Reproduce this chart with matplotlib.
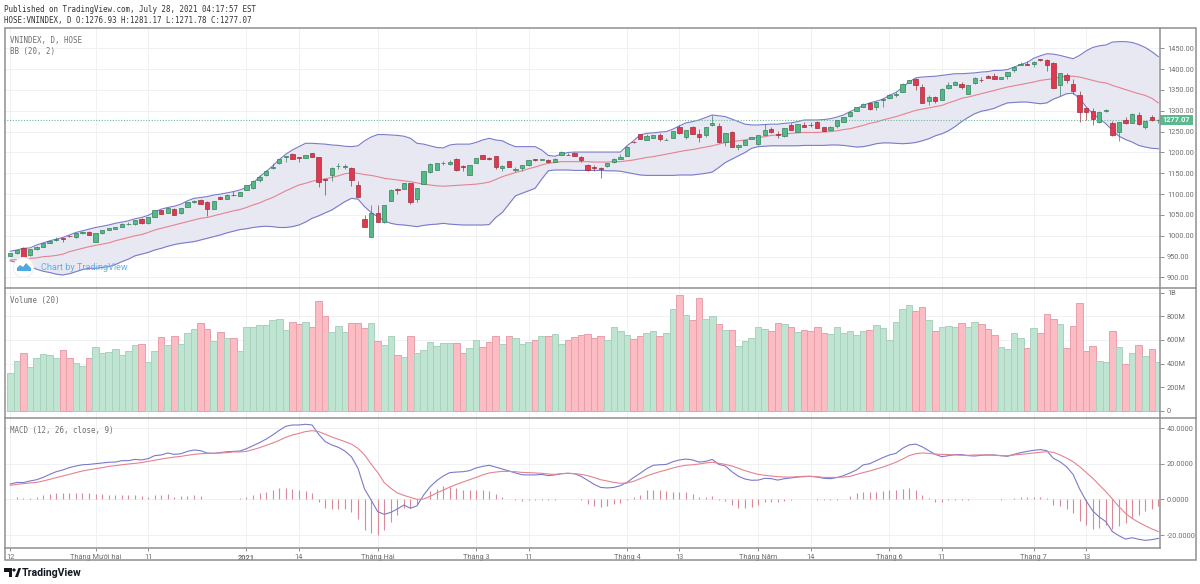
import matplotlib
matplotlib.use("Agg")
import matplotlib.pyplot as plt
from matplotlib.patches import Circle, Polygon, Rectangle

W, H = 1200, 584

opens = [
    952, 958, 970, 953, 968, 974, 983, 989, 994, 1000,
    996, 1006, 1010, 986, 1006, 1014, 1017, 1022, 1029, 1028,
    1041, 1030, 1046, 1061, 1055, 1065, 1054, 1070, 1080, 1086,
    1082, 1065, 1094, 1089, 1099, 1096, 1111, 1114, 1134, 1145,
    1162, 1174, 1189, 1196, 1188, 1187, 1198, 1189, 1136, 1145,
    1167, 1166, 1163, 1121, 1041, 998, 1055, 1034, 1084, 1113,
    1113, 1126, 1088, 1125, 1154, 1158, 1174, 1173, 1185, 1167,
    1147, 1175, 1194, 1186, 1191, 1162, 1179, 1159, 1162, 1169,
    1184, 1182, 1183, 1177, 1195, 1195, 1199, 1190, 1169, 1164,
    1163, 1167, 1176, 1185, 1192, 1226, 1244, 1230, 1235, 1242,
    1230, 1235, 1262, 1237, 1262, 1245, 1242, 1267, 1264, 1225,
    1250, 1212, 1218, 1233, 1220, 1243, 1256, 1245, 1239, 1265,
    1250, 1265, 1267, 1274, 1260, 1254, 1264, 1273, 1287, 1300,
    1309, 1319, 1308, 1327, 1330, 1337, 1345, 1367, 1376, 1356,
    1324, 1334, 1327, 1354, 1362, 1365, 1341, 1366, 1375, 1383,
    1384, 1377, 1383, 1397, 1411, 1412, 1412, 1424, 1421, 1414,
    1362, 1385, 1365, 1338, 1306, 1299, 1272, 1300.5, 1271, 1249,
    1278, 1271, 1289, 1261, 1285, 1276.93,
]
closes = [
    958, 966, 949, 968, 974, 982, 988, 993, 993, 999,
    1006, 1010, 1002, 1006, 1014, 1018, 1021, 1029, 1029, 1038,
    1030, 1044, 1062, 1053, 1066, 1050, 1066, 1080, 1084, 1077,
    1065, 1083, 1089, 1099, 1097, 1104, 1121, 1132, 1142, 1156,
    1166, 1184, 1191, 1185, 1187, 1194, 1190, 1128, 1133, 1163,
    1167.5, 1166.5, 1134, 1094, 1022, 1055, 1034, 1074, 1111, 1110,
    1126, 1081, 1114, 1155, 1173, 1174, 1175, 1176, 1159, 1164,
    1169, 1186, 1185, 1184, 1166, 1168, 1166, 1159.5, 1169, 1181,
    1181, 1184, 1177, 1185, 1202, 1194, 1192, 1182, 1159, 1162,
    1160, 1174, 1185, 1190, 1214, 1224, 1233, 1240, 1242, 1233,
    1231, 1251, 1246, 1254, 1245, 1237, 1260, 1270, 1226, 1246,
    1214, 1219, 1229, 1237, 1241, 1255, 1250, 1242, 1258, 1255,
    1268, 1262, 1266, 1259, 1252, 1262, 1278, 1285, 1298, 1309,
    1317, 1304, 1322, 1328, 1339, 1341, 1365, 1373, 1361, 1319,
    1334, 1324, 1353, 1363, 1369, 1356, 1361, 1379, 1373, 1379,
    1377, 1381, 1392, 1406, 1412, 1411, 1418, 1421, 1411, 1355,
    1390, 1375, 1347, 1297, 1298, 1281, 1296, 1301, 1242, 1273,
    1270, 1293, 1268, 1275, 1277, 1277.07,
]
highs = [
    959, 967, 972, 969, 975, 983, 989, 997, 995, 1001,
    1007, 1011, 1011, 1007, 1015, 1019, 1022, 1030, 1033, 1039,
    1042, 1045, 1063, 1063, 1067, 1066, 1067, 1081, 1085, 1088,
    1083, 1084, 1096, 1100, 1108, 1105, 1122, 1133, 1147, 1157,
    1174, 1185, 1192, 1198, 1189, 1195, 1199, 1190, 1137, 1164,
    1174, 1172, 1164, 1132, 1049, 1074, 1074, 1075, 1112, 1114,
    1127, 1127, 1115, 1156, 1174, 1175, 1180, 1182, 1186, 1169,
    1170, 1187, 1195, 1190, 1192, 1169, 1180, 1166, 1170, 1182,
    1185, 1185, 1184, 1186, 1203, 1198, 1202, 1191, 1173, 1169,
    1166, 1175, 1186, 1196, 1215, 1227, 1245, 1244, 1243, 1246,
    1234, 1252, 1266, 1255, 1263, 1256, 1261, 1290, 1270, 1247,
    1251, 1220, 1230, 1238, 1242, 1268, 1262, 1252, 1259, 1270,
    1269, 1274, 1272, 1275, 1261, 1263, 1279, 1286, 1299, 1310,
    1318, 1320, 1323, 1330, 1340, 1345, 1366, 1374, 1378, 1364,
    1339, 1335, 1354, 1370, 1372, 1370, 1362, 1380, 1381, 1386,
    1390, 1382, 1393, 1407, 1416, 1420, 1419, 1425, 1424, 1418,
    1391, 1390, 1376, 1347, 1310, 1306, 1300, 1305, 1276, 1274,
    1285, 1294, 1296, 1276, 1289, 1281.17,
]
lows = [
    951, 957, 948, 952, 967, 973, 982, 988, 985, 998,
    995, 1005, 1001, 985, 1005, 1013, 1016, 1021, 1025, 1027,
    1029, 1029, 1045, 1052, 1054, 1049, 1053, 1069, 1079, 1076,
    1047, 1064, 1088, 1088, 1096, 1095, 1110, 1113, 1130, 1144,
    1161, 1173, 1178, 1184, 1178, 1186, 1189, 1118, 1098, 1131,
    1161, 1161, 1120, 1093, 1021, 997, 1033, 1030, 1083, 1100,
    1112, 1076, 1082, 1124, 1150, 1157, 1170, 1169, 1155, 1156,
    1146, 1174, 1184, 1181, 1161, 1155, 1165, 1152, 1155, 1168,
    1180, 1181, 1174, 1176, 1194, 1193, 1191, 1177, 1155, 1155,
    1138, 1166, 1175, 1184, 1191, 1223, 1232, 1229, 1234, 1228,
    1229, 1234, 1245, 1232, 1244, 1226, 1237, 1263, 1223, 1216,
    1213, 1206, 1217, 1232, 1218, 1242, 1246, 1234, 1238, 1254,
    1249, 1261, 1261, 1258, 1251, 1253, 1258, 1272, 1286, 1299,
    1308, 1303, 1303, 1309, 1329, 1332, 1344, 1366, 1350, 1318,
    1314, 1319, 1326, 1353, 1361, 1352, 1340, 1365, 1368, 1378,
    1376, 1376, 1376, 1394, 1410, 1410, 1405, 1420, 1396, 1354,
    1336, 1366, 1340, 1272, 1278, 1266, 1271, 1297, 1239, 1227,
    1269, 1270, 1267, 1256, 1276, 1271.78,
]

bb_upper = [
    963, 966, 970, 971, 978, 983, 988, 992, 996, 1002,
    1008, 1012, 1016, 1020, 1023, 1026, 1030, 1033, 1036, 1041,
    1044, 1049, 1057, 1064, 1068, 1071, 1076, 1084, 1090, 1092,
    1094, 1098, 1100, 1103, 1106, 1110, 1116, 1126, 1142, 1154,
    1168, 1183, 1196, 1206, 1214, 1222, 1222, 1221, 1220, 1218,
    1217, 1215, 1214, 1216, 1228, 1237, 1243, 1243, 1242, 1241,
    1239, 1234, 1222, 1220, 1216, 1212, 1211, 1218, 1220, 1220,
    1220, 1224, 1230, 1234, 1230, 1228, 1220, 1214, 1214, 1214,
    1214, 1206, 1193, 1191, 1196, 1200, 1201, 1201, 1201, 1201,
    1201, 1201, 1201, 1201, 1216, 1228, 1242, 1246, 1247, 1249,
    1250, 1256, 1264, 1271, 1274, 1278, 1284, 1290, 1288, 1286,
    1280, 1274, 1268, 1266, 1266, 1267, 1268, 1268, 1270, 1271,
    1274, 1278, 1278, 1278, 1279, 1281, 1285, 1290, 1298, 1305,
    1313, 1319, 1323, 1328, 1337, 1344, 1356, 1369, 1379, 1381,
    1382, 1383, 1385, 1387, 1389, 1389, 1390, 1391, 1393, 1394,
    1397, 1397, 1399, 1405, 1411, 1416, 1426, 1432, 1437, 1436,
    1433, 1429, 1425, 1433, 1444, 1452, 1456, 1458, 1465, 1466,
    1466, 1464, 1459, 1452, 1442, 1430,
]
bb_basis = [
    942, 943, 944, 946, 947, 950, 951, 953, 956, 962,
    966, 970, 974, 977, 980, 983, 988, 992, 996, 1000,
    1003, 1008, 1014, 1018, 1022, 1026, 1030, 1034, 1038, 1042,
    1044, 1048, 1052, 1056, 1060, 1063, 1068, 1074, 1079, 1086,
    1092, 1100, 1108, 1115, 1122, 1126, 1131, 1134, 1137, 1140,
    1144, 1149, 1151, 1150, 1147, 1145, 1142, 1138, 1136, 1134,
    1132, 1130, 1127, 1124, 1122, 1120, 1119, 1120, 1121, 1122,
    1123, 1124, 1126, 1129, 1135, 1142, 1147, 1152, 1156, 1161,
    1165, 1170, 1174, 1176, 1178, 1178, 1178, 1178, 1178, 1177,
    1177, 1177, 1178, 1178, 1180, 1182, 1185, 1188, 1190, 1193,
    1196, 1199, 1202, 1205, 1207, 1210, 1213, 1216, 1220, 1224,
    1226, 1228, 1230, 1234, 1236, 1238, 1241, 1242, 1244, 1246,
    1247, 1248, 1248, 1248, 1249, 1250, 1252, 1255, 1257, 1261,
    1265, 1270, 1273, 1278, 1282, 1286, 1291, 1296, 1301, 1304,
    1307, 1310, 1313, 1319, 1324, 1330, 1333, 1337, 1341, 1345,
    1349, 1353, 1357, 1360, 1363, 1366, 1369, 1373, 1375, 1377,
    1381, 1383, 1383, 1381, 1377, 1373, 1369, 1367, 1361, 1356,
    1351, 1346, 1341, 1337, 1330, 1319,
]
bb_lower = [
    940, 936, 932, 926, 920, 915, 912, 908, 906, 909,
    914, 919, 922, 922, 924, 926, 931, 938, 944, 952,
    956, 960, 966, 970, 975, 979, 982, 984, 986, 990,
    994, 998, 1002, 1007, 1011, 1015, 1017, 1020, 1022, 1023,
    1022, 1020, 1020, 1022, 1026, 1033, 1042, 1048, 1055, 1062,
    1072, 1082, 1090, 1088, 1070, 1056, 1046, 1036, 1030, 1027,
    1026, 1024, 1022, 1025, 1027, 1028, 1030, 1028, 1027, 1026,
    1026, 1026, 1026, 1027, 1044, 1056, 1076, 1096, 1102, 1108,
    1114, 1136, 1156, 1158, 1158, 1158, 1157, 1157, 1157, 1157,
    1157, 1156, 1156, 1155, 1152, 1149, 1146, 1145, 1145, 1145,
    1145, 1145, 1146, 1146, 1146, 1148, 1150, 1153, 1164, 1176,
    1184, 1192, 1200, 1210, 1214, 1215, 1216, 1216, 1216, 1216,
    1216, 1217, 1217, 1217, 1217, 1218, 1218, 1217, 1215, 1213,
    1214, 1217, 1221, 1223, 1223, 1222, 1221, 1222, 1224, 1228,
    1233, 1240, 1245, 1252, 1262, 1274, 1284, 1293, 1299, 1302,
    1306, 1313, 1319, 1320, 1321, 1321, 1319, 1317, 1319, 1328,
    1334, 1341, 1342, 1330, 1309, 1293, 1281, 1269, 1253, 1239,
    1231, 1225, 1217, 1213, 1210, 1209,
]

# volume in millions
volumes = [
    320, 420, 488, 369, 445, 477, 471, 448, 513, 445,
    408, 383, 448, 536, 488, 496, 525, 474, 505, 556,
    567, 411, 508, 624, 559, 635, 565, 661, 695, 743,
    689, 593, 667, 616, 616, 505, 709, 709, 726, 723,
    769, 777, 684, 752, 738, 752, 712, 928, 803, 667,
    718, 667, 743, 743, 701, 743, 590, 556, 633, 471,
    457, 635, 491, 513, 584, 550, 570, 570, 573, 491,
    530, 599, 536, 584, 630, 567, 630, 613, 567, 584,
    599, 633, 630, 650, 567, 601, 627, 644, 650, 613,
    630, 596, 709, 672, 641, 607, 633, 658, 678, 635,
    658, 860, 982, 814, 769, 953, 777, 800, 735, 684,
    684, 548, 593, 613, 709, 692, 672, 743, 735, 709,
    667, 684, 678, 706, 661, 650, 706, 655, 672, 641,
    678, 684, 723, 701, 601, 755, 862, 894, 845, 877,
    772, 675, 709, 718, 709, 743, 712, 752, 735, 695,
    644, 539, 519, 658, 613, 530, 701, 658, 823, 777,
    735, 530, 718, 913, 505, 548, 420, 411, 678, 539,
    397, 491, 553, 460, 522, 411,
]

macd_line = [
    8.6, 9.5, 9.4, 10.3, 11.0, 12.3, 14.0, 15.5, 16.5, 17.8,
    18.7, 19.4, 19.6, 20.0, 20.4, 20.8, 20.9, 21.7, 21.7, 22.4,
    22.1, 22.8, 24.5, 24.9, 26.0, 25.2, 25.6, 26.9, 27.7, 27.3,
    26.0, 25.8, 26.2, 26.7, 26.9, 27.1, 28.4, 30.1, 31.8, 33.8,
    36.1, 38.7, 41.0, 41.7, 41.7, 42.1, 41.7, 36.5, 32.4, 30.5,
    29.2, 27.1, 23.9, 17.4, 5.8, -0.4, -6.9, -8.4, -7.3, -5.4,
    -3.2, -5.0, -3.6, 2.4, 7.1, 10.5, 13.1, 15.0, 15.3, 15.5,
    16.1, 17.6, 18.5, 19.1, 18.1, 17.0, 15.9, 14.8, 13.8, 13.7,
    13.7, 14.0, 13.3, 13.7, 14.4, 14.6, 14.4, 12.9, 10.7, 8.4,
    6.7, 6.4, 6.7, 7.7, 9.5, 12.2, 14.6, 17.2, 19.1, 19.4,
    19.6, 21.1, 22.1, 22.6, 22.1, 20.9, 21.3, 22.4, 19.6, 18.7,
    15.5, 12.9, 11.4, 10.7, 10.8, 11.8, 11.6, 10.8, 11.6, 12.0,
    12.5, 12.9, 12.9, 12.5, 11.8, 11.6, 12.2, 13.3, 14.8, 16.5,
    19.3, 20.0, 21.7, 23.4, 24.9, 25.8, 28.6, 30.5, 31.0, 29.5,
    27.3, 25.2, 23.9, 24.5, 25.1, 25.1, 24.5, 24.3, 24.7, 24.9,
    24.9, 24.5, 24.1, 25.2, 26.2, 26.9, 27.5, 27.9, 27.3, 23.0,
    21.1, 18.3, 14.0, 5.8, -0.9, -6.5, -9.9, -12.5, -18.1, -20.4,
    -22.3, -21.5, -22.4, -23.0, -22.6, -21.9,
]
signal_line = [
    7.9, 8.4, 8.8, 9.2, 9.5, 10.3, 11.2, 12.2, 13.1, 14.0,
    15.0, 15.9, 16.6, 17.2, 17.8, 18.5, 18.9, 19.4, 19.8, 20.2,
    20.6, 21.3, 21.9, 22.6, 23.2, 23.7, 24.1, 24.7, 25.2, 25.6,
    25.8, 25.8, 26.0, 26.2, 26.6, 26.6, 26.9, 27.9, 29.0, 30.3,
    31.6, 33.1, 34.8, 36.1, 37.0, 38.0, 38.5, 38.0, 36.5, 35.0,
    33.7, 32.4, 31.0, 28.6, 24.9, 19.8, 15.1, 9.4, 6.2, 3.6,
    2.2, 1.1, 0.0, 0.2, 1.7, 3.6, 5.2, 6.9, 8.4, 9.7,
    11.0, 12.3, 13.7, 14.8, 15.3, 15.7, 15.7, 15.5, 15.1, 15.0,
    14.8, 14.6, 14.2, 14.0, 14.4, 14.6, 14.4, 14.0, 13.3, 12.2,
    11.0, 10.3, 9.5, 9.0, 9.2, 10.1, 11.6, 13.1, 14.4, 15.5,
    16.5, 17.6, 18.5, 19.1, 19.4, 19.8, 20.4, 20.8, 20.2, 19.6,
    18.7, 17.4, 16.1, 15.0, 14.0, 13.5, 13.1, 12.7, 12.5, 12.5,
    12.7, 12.7, 12.9, 12.7, 12.3, 12.3, 12.3, 12.5, 12.9, 14.0,
    15.0, 15.9, 17.0, 18.1, 19.4, 20.8, 22.6, 24.5, 25.6, 26.0,
    25.8, 25.4, 25.2, 25.1, 24.9, 24.7, 24.7, 24.9, 24.9, 24.9,
    24.7, 24.5, 24.5, 24.9, 25.2, 25.6, 26.0, 26.4, 26.7, 26.4,
    24.9, 23.2, 21.1, 18.3, 15.1, 11.8, 8.0, 4.3, 0.2, -4.1,
    -7.9, -10.7, -12.9, -14.8, -16.6, -18.1,
]
macd_hist = [
    0.4, 1.1, 0.6, 0.6, 1.1, 2.2, 2.8, 3.7, 3.7, 3.7,
    3.7, 3.7, 3.7, 3.0, 2.8, 2.6, 2.4, 2.2, 2.2, 2.2,
    1.9, 1.5, 2.2, 2.4, 2.8, 1.5, 1.7, 1.9, 2.2, 1.7,
    0.4, 0.2, 0.2, 0.4, 0.4, 0.6, 1.5, 2.2, 3.4, 3.9,
    5.2, 6.2, 6.5, 5.6, 5.2, 4.5, 3.4, -1.5, -5.0, -5.6,
    -5.6, -5.6, -7.1, -10.8, -17.2, -18.7, -20.2, -17.2, -12.7, -9.0,
    -4.7, -4.7, -2.8, 0.4, 4.5, 6.0, 7.5, 7.1, 6.5, 5.4,
    5.0, 5.4, 5.0, 4.5, 2.8, 1.1, 0.2, -0.6, -1.1, -0.4,
    -0.4, -0.4, -0.4, -0.4, 0.2, 0.2, 0.2, -0.6, -2.6, -3.7,
    -4.1, -3.9, -2.8, -1.9, -0.2, 1.5, 2.6, 5.0, 5.0, 5.4,
    4.5, 4.3, 3.9, 4.1, 2.8, 1.5, 1.1, 1.7, -0.6, -0.7,
    -3.4, -4.7, -5.0, -4.5, -3.4, -1.5, -1.3, -1.5, -1.1, -0.6,
    0.2, 0.2, 0.2, -0.2, -0.6, -0.6, -0.2, 0.4, 1.9, 3.4,
    4.1, 3.9, 4.1, 4.7, 5.0, 5.0, 6.0, 6.5, 5.2, 2.2,
    0.6, -1.5, -1.3, -0.4, -0.2, -0.4, -0.4, 0.0, 0.0, 0.2,
    0.2, -0.2, 0.0, 0.9, 1.5, 1.1, 1.5, 1.5, 0.9, -3.4,
    -3.7, -5.2, -7.9, -12.3, -14.6, -16.5, -15.9, -14.6, -16.5, -15.0,
    -13.1, -10.5, -9.0, -6.7, -5.2, -3.7,
]

time_ticks = [0, 13, 21, 36, 44, 56, 71, 79, 94, 102, 114, 122, 134, 142, 156, 164]
time_labels = ["12", "Tháng Mười hai", "11", "2021", "14", "Tháng Hai", "Tháng 3", "11",
               "Tháng 4", "13", "Tháng Năm", "14", "Tháng 6", "11", "Tháng 7", "13"]
price_ticks = [900, 950, 1000, 1050, 1100, 1150, 1200, 1250, 1300, 1350, 1400, 1450]
volume_ticks = [0, 200, 400, 600, 800, 1000]
volume_labels = ["0", "200M", "400M", "600M", "800M", "1B"]
macd_ticks = [-20, 0, 20, 40]
last_close = 1277.07

UP = "#53b987"
UP_DARK = "#357f5c"
DOWN = "#e0394f"
DOWN_DARK = "#99303f"
GRID = "#f0f1f4"
FRAME = "#8f8f8f"
LABEL = "#6f6f6f"
BAND = "#7a7acb"
BASIS = "#e5838f"
MONO = "DejaVu Sans Mono"
TICK_SIZE = 5.3

plt.rcParams["font.family"] = ["Roboto", "DejaVu Sans"]
fig = plt.figure(figsize=(W / 100, H / 100), dpi=100, facecolor="white")
x = list(range(len(closes)))
colors_up = [c >= o for o, c in zip(opens, closes)]


def pane(top, bottom, ylim, yticks, ylabels):
    ax = fig.add_axes([4 / W, 1 - bottom / H, 1156 / W, (bottom - top) / H])
    ax.set_xlim(-0.96, 175.25)
    ax.set_ylim(*ylim)
    ax.set_xticks(time_ticks)
    ax.set_xticklabels([])
    ax.yaxis.tick_right()
    ax.set_yticks(yticks)
    ax.set_yticklabels(ylabels)
    ax.tick_params(axis="y", length=3, width=0.7, color=FRAME, labelcolor=LABEL, labelsize=TICK_SIZE, pad=2)
    ax.tick_params(axis="x", length=0)
    ax.grid(True, color=GRID, lw=0.7)
    ax.set_axisbelow(True)
    for s in ax.spines.values():
        s.set_visible(False)
    return ax


# price pane
ax1 = pane(28, 287.5, (876, 1498.7), price_ticks, ["%.2f" % p for p in price_ticks])
ax1.fill_between(x, bb_lower, bb_upper, color="#e8e8f3", lw=0, zorder=1)
ax1.plot(x, bb_upper, color=BAND, lw=0.8, zorder=2)
ax1.plot(x, bb_lower, color=BAND, lw=0.8, zorder=2)
ax1.plot(x, bb_basis, color=BASIS, lw=0.8, zorder=2)
ax1.axhline(last_close, color="#6fb79a", lw=0.8, ls=(0, (1, 1.5)), zorder=2)
for i in x:
    up = colors_up[i]
    ax1.vlines(i, lows[i], highs[i], color=UP_DARK if up else DOWN_DARK, lw=0.7, alpha=0.7, zorder=3)
ax1.bar(x, [c - o for o, c in zip(opens, closes)], bottom=opens, width=0.66,
        color=[UP if u else DOWN for u in colors_up],
        edgecolor=[UP_DARK if u else DOWN_DARK for u in colors_up], linewidth=0.5, zorder=4)

# volume pane
ax2 = pane(287.5, 417.5, (-57, 1044), volume_ticks, volume_labels)
ax2.bar(x, volumes, width=1.0,
        color=["#bfe5d2" if u else "#fcbcc4" for u in colors_up],
        edgecolor=["#a9d2bd" if u else "#e8a0ab" for u in colors_up], linewidth=0.7, zorder=2)

# macd pane
ax3 = pane(417.5, 547.5, (-27.0, 45.9), macd_ticks, ["%.4f" % m for m in macd_ticks])
ax3.vlines(x, 0, macd_hist, color="#d98a96", lw=0.8, zorder=2)
ax3.plot(x, macd_line, color=BAND, lw=0.8, zorder=3)
ax3.plot(x, signal_line, color=BASIS, lw=0.8, zorder=3)
ax3.set_xticklabels(time_labels)
ax3.tick_params(axis="x", length=2.5, width=0.7, color=FRAME, labelcolor=LABEL, labelsize=TICK_SIZE, pad=2.5)
ax3.get_xticklabels()[3].set_fontweight("bold")

# frame, header, price tag and branding drawn in pixel coordinates
over = fig.add_axes([0, 0, 1, 1], zorder=10)
over.set_xlim(0, W)
over.set_ylim(H, 0)
over.axis("off")
over.add_patch(Rectangle((4.5, 28), 1191, 532, fill=False, ec=FRAME, lw=1.1))
over.plot([4.5, 1195.5], [287.5, 287.5], color=FRAME, lw=1.1)
over.plot([4.5, 1195.5], [417.5, 417.5], color=FRAME, lw=1.1)
over.plot([4.5, 1160], [547.5, 547.5], color=FRAME, lw=1.1)
over.plot([1160, 1160], [28, 547.5], color=FRAME, lw=1.1)

over.text(4, 9.5, "Published on TradingView.com, July 28, 2021 04:17:57 EST", family=MONO,
          fontsize=5.45, color="#333333", va="center")
over.text(4, 20.5, "HOSE:VNINDEX, D O:1276.93 H:1281.17 L:1271.78 C:1277.07", family=MONO,
          fontsize=5.45, color="#333333", va="center")
over.text(10, 40.5, "VNINDEX, D, HOSE", family=MONO, fontsize=5.45, color=LABEL, va="center")
over.text(10, 51.5, "BB (20, 2)", family=MONO, fontsize=5.45, color=LABEL, va="center")
over.text(10, 300, "Volume (20)", family=MONO, fontsize=5.45, color=LABEL, va="center")
over.text(10, 430, "MACD (12, 26, close, 9)", family=MONO, fontsize=5.45, color=LABEL, va="center")

over.add_patch(Rectangle((1160, 115), 33, 10, fc="#5cb88f", ec="none"))
over.text(1176.5, 120, "%.2f" % last_close, color="white", fontsize=TICK_SIZE, fontweight="bold",
          ha="center", va="center")

# chart by tradingview watermark
over.add_patch(Circle((23.5, 267.5), 10, fc="white", ec="#eef0f4", lw=0.8))
over.add_patch(Polygon([(17, 271), (17, 268), (20, 265), (23, 267), (26, 263), (31, 268), (31, 271)],
                       fc="#4fa8e0", ec="none"))
over.text(41, 268, "Chart by TradingView", color="#5fb2e2", fontsize=6.6, va="center")

# tradingview logo
over.add_patch(Polygon([(4, 568), (12, 568), (12, 577), (8.5, 577), (8.5, 571.5), (4, 571.5)], fc="#131722", ec="none"))
over.add_patch(Circle((14, 570), 1.6, fc="#131722", ec="none"))
over.add_patch(Polygon([(15, 577), (18.5, 568), (21, 568), (18, 577)], fc="#131722", ec="none"))
over.text(22, 572.5, "TradingView", color="#131722", fontsize=7.6, fontweight="bold", va="center")

fig.savefig("out.png", dpi=100)
